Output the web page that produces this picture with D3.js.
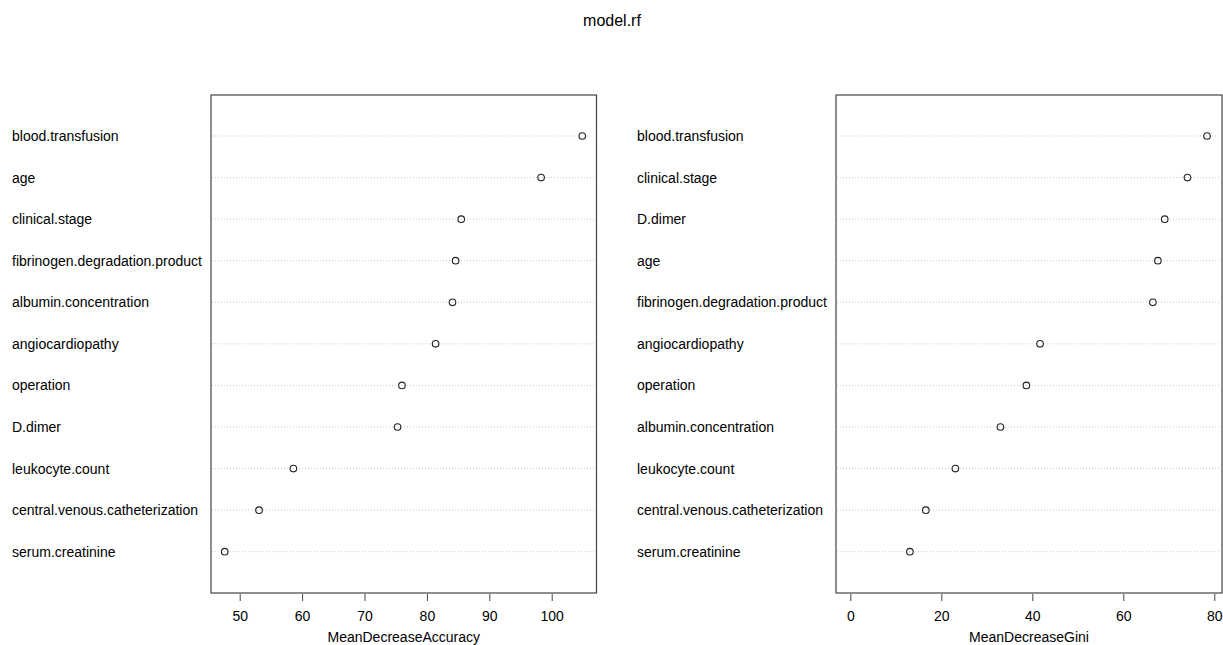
<!DOCTYPE html>
<html><head><meta charset="utf-8">
<script src="https://cdn.jsdelivr.net/npm/d3@7"></script>
<style>body{margin:0;background:#fff;} text{font-family:"Liberation Sans",Arial,sans-serif;fill:#000;}</style>
</head><body><svg id="c" width="1223" height="645"></svg>
<script>
const title = "model.rf";
const accLabels = ["blood.transfusion","age","clinical.stage","fibrinogen.degradation.product","albumin.concentration","angiocardiopathy","operation","D.dimer","leukocyte.count","central.venous.catheterization","serum.creatinine"];
const accValues = [104.9,98.3,85.5,84.6,84.1,81.4,76.0,75.3,58.6,53.1,47.6];
const accTicks = [50,60,70,80,90,100];
const giniLabels = ["blood.transfusion","clinical.stage","D.dimer","age","fibrinogen.degradation.product","angiocardiopathy","operation","albumin.concentration","leukocyte.count","central.venous.catheterization","serum.creatinine"];
const giniValues = [78.4,74.1,69.1,67.6,66.5,41.7,38.7,33.0,23.1,16.6,13.1];
const giniTicks = [0,20,40,60,80];

const svg = d3.select("#c");
svg.append("text").attr("x",612).attr("y",26).attr("text-anchor","middle").attr("font-size",16).text(title);

function panel(labels, values, ticks, xTitle, box, labelX, domain){
  const g = svg.append("g");
  const x = d3.scaleLinear().domain(domain.d).range(domain.r);
  const y = d3.scalePoint().domain(labels).range([136,551.7]);
  g.selectAll("line.grid").data(labels).enter().append("line")
    .attr("x1",box.x0+1).attr("x2",box.x1-1)
    .attr("y1",d=>y(d)).attr("y2",d=>y(d))
    .attr("stroke","#c8c8c8").attr("stroke-width",1).attr("stroke-dasharray","1,2");
  g.selectAll("text.lab").data(labels).enter().append("text")
    .attr("x",labelX).attr("y",d=>y(d)+5).attr("font-size",14).text(d=>d);
  g.append("rect").attr("x",box.x0).attr("y",box.y0).attr("width",box.x1-box.x0).attr("height",box.y1-box.y0)
    .attr("fill","none").attr("stroke","#444").attr("stroke-width",1.2);
  g.selectAll("circle").data(values).enter().append("circle")
    .attr("cx",d=>x(d)).attr("cy",(d,i)=>y(labels[i])).attr("r",3.3)
    .attr("fill","none").attr("stroke","#222").attr("stroke-width",1.1);
  const ax = d3.axisBottom(x).tickValues(ticks).tickSize(7).tickPadding(10).tickSizeOuter(0);
  const a = g.append("g").attr("transform",`translate(0,${box.y1+1})`).call(ax);
  a.select(".domain").remove();
  a.selectAll("line").attr("stroke","#444");
  a.selectAll("text").attr("font-size",14).attr("font-family","Liberation Sans, Arial, sans-serif");
  g.append("text").attr("x",(box.x0+box.x1)/2).attr("y",642).attr("text-anchor","middle").attr("font-size",14).text(xTitle);
}
panel(accLabels, accValues, accTicks, "MeanDecreaseAccuracy", {x0:211,x1:596.5,y0:95,y1:593}, 12, {d:[50,100], r:[239.7,551.7]});
panel(giniLabels, giniValues, giniTicks, "MeanDecreaseGini", {x0:836,x1:1222,y0:95,y1:593}, 637, {d:[0,80], r:[850.3,1214.3]});
</script></body></html>
